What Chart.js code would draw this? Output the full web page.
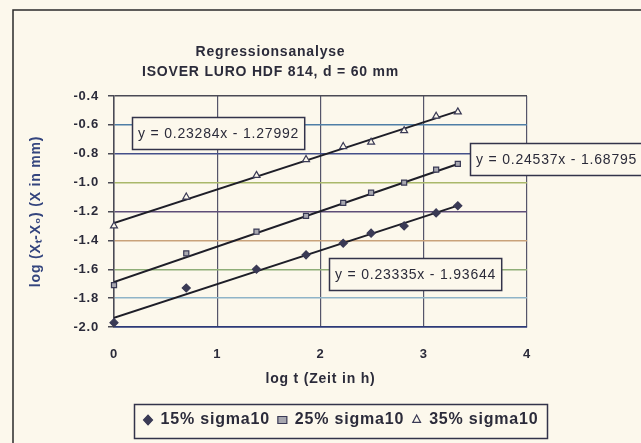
<!DOCTYPE html>
<html>
<head>
<meta charset="utf-8">
<script src="https://cdn.jsdelivr.net/npm/chart.js@4/dist/chart.umd.min.js"></script>
<style>
    html, body { margin: 0; padding: 0; background: #fcf8ec; }
    #wrap { width: 641px; height: 443px; }
</style>
</head>
<body>
<div id="wrap"><canvas id="regressionChart"></canvas></div>
<script>
"use strict";

/** DATA */

// log t (Zeit in h)
const logTime = [0, 0.70, 1.38, 1.86, 2.22, 2.49, 2.81, 3.12, 3.33];

// log (Xt - X0) per series
const sigma15 = [-1.97, -1.73, -1.60, -1.50, -1.42, -1.35, -1.30, -1.21, -1.16];
const sigma25 = [-1.71, -1.49, -1.34, -1.23, -1.14, -1.07, -1.00, -0.91, -0.87];
const sigma35 = [-1.30, -1.10, -0.95, -0.84, -0.75, -0.72, -0.64, -0.54, -0.51];

const seriesLabels = ['15% sigma10', '25% sigma10', '35% sigma10'];

// Trendline equations as printed on the chart
const slopes = [0.23335, 0.24537, 0.23284];
const intercepts = [-1.93644, -1.68795, -1.27992];

// Label anchor (data coords, top-left of box)
const eqAnchorX = [2.08, 3.45, 0.17];
const eqAnchorY = [-1.525, -0.728, -0.546];

const yTicks = [-2.0, -1.8, -1.6, -1.4, -1.2, -1.0, -0.8, -0.6, -0.4];
const xTicks = [0, 1, 2, 3, 4];


/** HELPERS */

const FONT = "'Liberation Sans', Arial, sans-serif";
const INK = '#2b2b3a';
const BG = '#fcf8ec';
const SPACING = '0.8px';
const LEGEND_CENTER = 341;

// Scan-like colours of the horizontal grid lines, bottom to top
const GRID_COLORS = ['#2c3a78', '#8fb4c8', '#8fae78', '#c9a27a', '#5e4e78', '#a9b86a', '#44508a', '#4f7ea6', '#4a4a55'];

const toPoints = ys => ys.map((y, i) => ({ x: logTime[i], y }));

const trendLine = i => {
    const x0 = logTime[0];
    const x1 = logTime[logTime.length - 1];
    return [{ x: x0, y: slopes[i] * x0 + intercepts[i] }, { x: x1, y: slopes[i] * x1 + intercepts[i] }];
};

const formatEq = i => `y = ${ slopes[i].toFixed(5) }x - ${ Math.abs(intercepts[i]).toFixed(5) }`;


/** PLUGINS */

// Slightly wider lettering, like the scanned original
const spacingPlugin = {
    id: 'spacing',
    beforeUpdate: chart => { chart.ctx.letterSpacing = SPACING; },
    beforeDraw: chart => { chart.ctx.letterSpacing = SPACING; }
};

// Outer frame of the figure
const framePlugin = {
    id: 'frame',
    beforeDraw: chart => {
        const ctx = chart.ctx;
        ctx.save();
        ctx.strokeStyle = '#2a2a2a';
        ctx.lineWidth = 1.5;
        ctx.strokeRect(13, 10, 700, 500);
        ctx.restore();
    }
};

// Boxed regression equations
const equationPlugin = {
    id: 'equations',
    afterDatasetsDraw: chart => {
        const ctx = chart.ctx;
        const xs = chart.scales.x;
        const ys = chart.scales.y;
        ctx.save();
        ctx.font = `14px ${ FONT }`;
        ctx.textBaseline = 'middle';
        slopes.forEach((s, i) => {
            const text = formatEq(i);
            const left = Math.round(xs.getPixelForValue(eqAnchorX[i]));
            const top = Math.round(ys.getPixelForValue(eqAnchorY[i]));
            const w = ctx.measureText(text).width + 11;
            const h = 32;
            ctx.fillStyle = BG;
            ctx.fillRect(left, top, w, h);
            ctx.strokeStyle = '#33334a';
            ctx.lineWidth = 1.5;
            ctx.strokeRect(left + 0.5, top + 0.5, w, h);
            ctx.fillStyle = INK;
            ctx.fillText(text, left + 6, top + h / 2 + 1);
        });
        ctx.restore();
    }
};

// Move the legend where the original has it and draw its border
const legendBoxPlugin = {
    id: 'legendBox',
    afterLayout: chart => {
        const lg = chart.legend;
        if(!lg) return;
        // hit boxes are re-adjusted by the legend plugin in afterUpdate
        const dx = LEGEND_CENTER - (lg.left + lg.right) / 2;
        lg.left += dx;
        lg.right += dx;
    },
    afterDraw: chart => {
        const lg = chart.legend;
        if(!lg || !lg.legendHitBoxes.length) return;
        const boxes = lg.legendHitBoxes;
        const left = boxes[0].left - 10;
        const right = boxes[boxes.length - 1].left + boxes[boxes.length - 1].width + 8;
        const top = boxes[0].top - 8;
        const bottom = boxes[0].top + boxes[0].height + 10;
        const ctx = chart.ctx;
        ctx.save();
        ctx.strokeStyle = '#33334a';
        ctx.lineWidth = 1.5;
        ctx.strokeRect(Math.round(left) + 0.5, Math.round(top) + 0.5, Math.round(right - left), Math.round(bottom - top));
        ctx.restore();
    }
};


/** INITIALIZE CHART */

const markerBase = {
    showLine: false,
    pointRadius: 4,
    pointBorderWidth: 1.2,
    borderColor: '#3a3a55',
    clip: false,
};

const trendBase = {
    showLine: true,
    pointRadius: 0,
    borderColor: '#1e1e28',
    borderWidth: 2,
};

const regressionChart = new Chart(document.getElementById('regressionChart').getContext('2d'), {
    type: 'scatter',
    data: {
        datasets: [
            { ...markerBase, label: seriesLabels[0], data: toPoints(sigma15), pointStyle: 'rectRot', backgroundColor: '#3a3a55' },
            { ...markerBase, label: seriesLabels[1], data: toPoints(sigma25), pointStyle: 'rect', backgroundColor: '#a8a8b0', pointRadius: 3.6 },
            { ...markerBase, label: seriesLabels[2], data: toPoints(sigma35), pointStyle: 'triangle', backgroundColor: BG },
            { ...trendBase, label: 'trend15', data: trendLine(0) },
            { ...trendBase, label: 'trend25', data: trendLine(1) },
            { ...trendBase, label: 'trend35', data: trendLine(2) },
        ]
    },
    options: {
        responsive: true,
        maintainAspectRatio: false,
        animation: false,
        layout: {
            padding: { left: 14, right: 114, top: 42, bottom: 5 }
        },
        plugins: {
            title: {
                display: true,
                text: ['Regressionsanalyse', 'ISOVER LURO HDF 814, d = 60 mm'],
                color: INK,
                font: { family: FONT, size: 14, weight: 'bold', lineHeight: 1.45 },
                padding: { top: 0, bottom: 13.4 }
            },
            legend: {
                position: 'bottom',
                labels: {
                    filter: item => item.datasetIndex < 3,
                    usePointStyle: true,
                    pointStyleWidth: 9,
                    boxHeight: 7,
                    color: INK,
                    padding: 8,
                    font: { family: FONT, size: 16, weight: 'bold' }
                }
            },
            tooltip: { enabled: false }
        },
        scales: {
            x: {
                type: 'linear',
                min: 0,
                max: 4,
                afterBuildTicks: scale => { scale.ticks = xTicks.map(v => ({ value: v })); },
                afterFit: scale => { scale.height = 77; },
                border: { color: '#2c3a78', width: 1.5 },
                grid: { color: '#55556a', lineWidth: 1.2, drawTicks: false },
                ticks: { color: INK, padding: 20, font: { family: FONT, size: 13, weight: 'bold' } },
                title: {
                    display: true,
                    text: 'log t (Zeit in h)',
                    color: INK,
                    padding: { top: 4, bottom: 16.4 },
                    font: { family: FONT, size: 14, weight: 'bold' }
                }
            },
            y: {
                type: 'linear',
                min: -2.0,
                max: -0.4,
                afterBuildTicks: scale => { scale.ticks = yTicks.map(v => ({ value: v })); },
                afterFit: scale => { scale.width = 100; },
                border: { color: '#4a4a55', width: 1.5 },
                grid: {
                    color: ctx => GRID_COLORS[ctx.index] || '#888',
                    lineWidth: 1.5,
                    tickLength: 6,
                    tickColor: '#4a4a55'
                },
                ticks: {
                    color: INK,
                    padding: 9,
                    font: { family: FONT, size: 13, weight: 'bold' },
                    callback: v => Number(v).toFixed(1)
                },
                title: {
                    display: true,
                    text: 'log (Xₜ-X₀) (X in mm)',
                    color: '#34457e',
                    padding: { top: 13.6, bottom: 0 },
                    font: { family: FONT, size: 14, weight: 'bold' }
                }
            }
        }
    },
    plugins: [spacingPlugin, framePlugin, equationPlugin, legendBoxPlugin]
});
</script>
</body>
</html>
